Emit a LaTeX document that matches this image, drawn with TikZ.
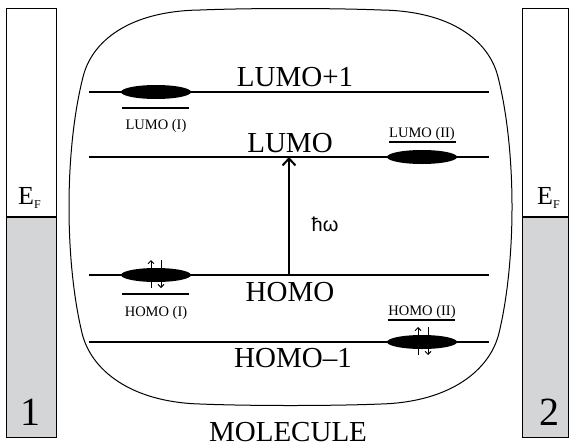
\documentclass[tikz,border=0pt]{standalone}
\usepackage{fontspec}
\setmainfont{Liberation Serif}
\newfontfamily\sansf{Liberation Sans}
\usetikzlibrary{arrows.meta,shapes.geometric,calc}
\definecolor{elgray}{RGB}{212,213,215}
\begin{document}
\begin{tikzpicture}[x=1pt,y=-1pt,
  level/.style={line width=2pt},
  big/.style={font=\fontsize{29}{32}\selectfont, inner sep=0pt, anchor=base},
  small/.style={font=\fontsize{14.5}{16}\selectfont, inner sep=0pt, anchor=base},
  orb/.style={ellipse, fill=black, minimum width=70pt, minimum height=14pt, inner sep=0pt},
  spin/.style={line width=0.9pt, -{Straight Barb[length=3pt,width=6pt]}},
  uline/.style={line width=1.5pt},
  efl/.style={font=\fontsize{26}{28}\selectfont, inner sep=0pt, anchor=base west},
  num/.style={font=\fontsize{40}{40}\selectfont, inner sep=0pt, anchor=base},
]
\useasboundingbox (0,0) rectangle (569,447);

% electrodes
\fill[elgray] (6,217) rectangle (56,437);
\fill[elgray] (522,217) rectangle (568,437);
\draw[line width=1pt] (6,8) rectangle (56,437);
\draw[line width=1pt] (522,8) rectangle (568,437);
\coordinate (f1a) at (6,217); \coordinate (f1b) at (56,217);
\coordinate (f2a) at (522,217); \coordinate (f2b) at (568,217);
\draw[level] (f1a) -- (f1b);
\draw[level] (f2a) -- (f2b);
\node[efl] (ef1) at (18,204) {E\raisebox{-4pt}{\fontsize{12}{12}\selectfont F}};
\node[efl] (ef2) at (537,204) {E\raisebox{-4pt}{\fontsize{12}{12}\selectfont F}};
\node[num] (n1) at (30,425) {1};
\node[num] (n2) at (549,425) {2};

% molecule outline
\draw[line width=1pt] (200,10) .. controls (130,11) and (92,40.5) .. (83,77)
  .. controls (64.5,150) and (64.5,260) .. (82,333)
  .. controls (90.75,369.5) and (130,402) .. (200,404)
  .. controls (250,406) and (331,406) .. (381,404)
  .. controls (451,402) and (490.25,369.5) .. (499,333)
  .. controls (516.5,260) and (516.5,150) .. (498,77)
  .. controls (489,40.5) and (451,11) .. (381,10)
  .. controls (330,8) and (251,8) .. (200,10) -- cycle;
\node[big] (mol) at (288,441) {MOLECULE};

% levels
\coordinate (l1a) at (89,92);  \coordinate (l1b) at (489,92);
\coordinate (l0a) at (89,157); \coordinate (l0b) at (489,157);
\coordinate (h0a) at (89,275); \coordinate (h0b) at (489,275);
\coordinate (h1a) at (89,342); \coordinate (h1b) at (489,342);
\draw[level] (l1a) -- (l1b);
\draw[level] (l0a) -- (l0b);
\draw[level] (h0a) -- (h0b);
\draw[level] (h1a) -- (h1b);
\node[big] (tl1) at (295,86) {LUMO+1};
\node[big] (tl0) at (290,152) {LUMO};
\node[big] (th0) at (290,301) {HOMO};
\node[big] (th1) at (293,367) {HOMO–1};

% orbitals of the contacts
\node[orb] (o1) at (156,92) {};
\node[orb] (o2) at (422,157) {};
\node[orb] (o3) at (156,275) {};
\node[orb] (o4) at (422,342) {};

\draw[uline] (122,108) -- (189,108);
\node[small] (t1) at (156,129) {LUMO (I)};
\draw[uline] (389,142) -- (456,142);
\node[small] (t2) at (422,137) {LUMO (II)};
\draw[uline] (122,294) -- (189,294);
\node[small] (t3) at (156,316) {HOMO (I)};
\draw[uline] (388,320) -- (455,320);
\node[small] (t4) at (422,315) {HOMO (II)};

% spins
\draw[spin] ($(o3.center)+(-5,13)$) -- ($(o3.center)+(-5,-15)$);
\draw[spin] ($(o3.center)+(5,-15)$) -- ($(o3.center)+(5,13)$);
\draw[spin] ($(o4.center)+(-4,13)$) -- ($(o4.center)+(-4,-15)$);
\draw[spin] ($(o4.center)+(6,-15)$) -- ($(o4.center)+(6,13)$);

% excitation
\coordinate (hv) at (289,275);
\coordinate (lv) at (289,157);
\draw[line width=2pt, -{Straight Barb[length=7pt,width=13pt]}] (hv) -- (lv);
\node[font=\sansf\fontsize{20}{22}\selectfont, inner sep=0pt] (hw) at (325,224) {ħω};
\end{tikzpicture}
\end{document}
